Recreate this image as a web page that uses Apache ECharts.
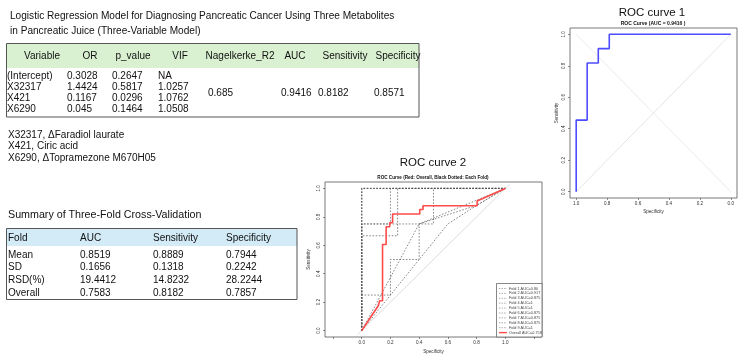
<!DOCTYPE html>
<html>
<head>
<meta charset="utf-8">
<script src="https://cdn.jsdelivr.net/npm/echarts@6/dist/echarts.min.js"></script>
<style>
html,body{margin:0;padding:0;background:#fff}
#main{width:744px;height:361px}
</style>
</head>
<body>
<div id="main"></div>
<script>
//表1 逻辑回归模型
var modelTitle = ['Logistic Regression Model for Diagnosing Pancreatic Cancer Using Three Metabolites',
	'in Pancreatic Juice (Three-Variable Model)'];
var modelHeader = ['Variable','OR','p_value','VIF','Nagelkerke_R2','AUC','Sensitivity','Specificity'];
var variables = ['(Intercept)','X32317','X421','X6290'];
var orVals = ['0.3028','1.4424','0.1167','0.045'];
var pVals = ['0.2647','0.5817','0.0296','0.1464'];
var vifVals = ['NA','1.0257','1.0762','1.0508'];
var modelStats = ['0.685','0.9416','0.8182','0.8571'];//R2, AUC, Sens, Spec
var notes = ['X32317, \u0394Faradiol laurate','X421, Ciric acid','X6290, \u0394Topramezone M670H05'];

//表2 交叉验证
var cvTitle = 'Summary of Three-Fold Cross-Validation';
var cvHeader = ['Fold','AUC','Sensitivity','Specificity'];
var cvRows = ['Mean','SD','RSD(%)','Overall'];
var cvAuc = ['0.8519','0.1656','19.4412','0.7583'];
var cvSens = ['0.8889','0.1318','14.8232','0.8182'];
var cvSpec = ['0.7944','0.2242','28.2244','0.7857'];

//ROC 1
var tickVals = [0, 0.2, 0.4, 0.6, 0.8, 1.0];
var tickVals2 = [-0.2, 0, 0.2, 0.4, 0.6, 0.8, 1.0, 1.2];
var roc1Spec = [1, 1, 0.929, 0.929, 0.857, 0.857, 0.786, 0.786, 0];
var roc1Sens = [0, 0.455, 0.455, 0.818, 0.818, 0.909, 0.909, 1, 1];

//ROC 2
var overallX = [0, 0.115, 0.125, 0.125, 0.145, 0.145, 0.17, 0.17, 0.195, 0.195, 0.215, 0.215, 0.404, 0.404, 0.427, 0.427, 0.804, 0.804, 1];
var overallY = [0, 0.175, 0.175, 0.21, 0.21, 0.605, 0.605, 0.73, 0.73, 0.758, 0.758, 0.82, 0.82, 0.852, 0.852, 0.878, 0.878, 0.911, 1];
var foldNames = ['Fold 1 AUC=0.80','Fold 2 AUC=0.917','Fold 3 AUC=0.875','Fold 4 AUC=1','Fold 5 AUC=1',
	'Fold 6 AUC=0.875','Fold 7 AUC=0.875','Fold 8 AUC=0.875','Fold 9 AUC=1'];
var overallName = 'Overall AUC=0.758';
var foldX = [
	[0, 0, 0.2, 0.2, 0.4, 0.4, 1],
	[0, 0, 0.25, 0.25, 1],
	[0, 0, 0.5, 0.5, 1],
	[0, 0, 1],
	[0, 0, 1],
	[0, 0.4, 0.8, 1],
	[0, 0, 0.2, 0.2, 1],
	[0, 0.6, 0.8, 1],
	[0, 0, 1]
];
var foldY = [
	[0, 0.25, 0.25, 0.5, 0.5, 0.75, 1],
	[0, 0.667, 0.667, 1, 1],
	[0, 0.75, 0.75, 1, 1],
	[0, 1, 1],
	[0, 1, 1],
	[0, 0.75, 0.88, 1],
	[0, 0.75, 0.75, 1, 1],
	[0, 0.75, 0.88, 1],
	[0, 1, 1]
];

function zip(xs, ys){
	return xs.map(function(x, i){ return [x, ys[i]]; });
}

var FONT = '"Liberation Sans", Arial, sans-serif';
function txt(s, x, y, size, align, bold, color){
	return {type:'text', x:x, y:y, z:10,
		style:{text:s, font:(bold ? 'bold ' : '') + size + 'px ' + FONT, fill:color || '#111',
			textAlign:align || 'left', textVerticalAlign:'middle'}};
}

var g = [];
//表1
g.push(txt(modelTitle[0], 10, 16, 10.1));
g.push(txt(modelTitle[1], 10, 31, 10.1));
g.push({type:'rect', z:5, shape:{x:7, y:44, width:412, height:24}, style:{fill:'#d9f1d1'}});
g.push({type:'rect', z:6, shape:{x:6.5, y:43.5, width:412.5, height:73.5}, style:{fill:null, stroke:'#555', lineWidth:1}});
var hx = [42, 90, 133, 180, 240, 295, 345, 398];
modelHeader.forEach(function(h, i){ g.push(txt(h, hx[i], 56, 10, 'center')); });
var rowY = [76.5, 87.5, 98.5, 109.5];
var colX = [7, 67, 112, 158];
variables.forEach(function(v, i){
	g.push(txt(v, colX[0], rowY[i], 10));
	g.push(txt(orVals[i], colX[1], rowY[i], 10));
	g.push(txt(pVals[i], colX[2], rowY[i], 10));
	g.push(txt(vifVals[i], colX[3], rowY[i], 10));
});
var statX = [208, 281, 318, 374];
modelStats.forEach(function(s, i){ g.push(txt(s, statX[i], 93, 10)); });
notes.forEach(function(n, i){ g.push(txt(n, 8, 135 + i * 11.7, 10)); });

//表2
g.push(txt(cvTitle, 8, 215, 10.7));
g.push({type:'rect', z:5, shape:{x:7, y:229, width:290, height:17}, style:{fill:'#d2ebf7'}});
g.push({type:'rect', z:6, shape:{x:6.5, y:228.5, width:290.5, height:71}, style:{fill:null, stroke:'#555', lineWidth:1}});
var cx = [8, 80, 153, 226];
cvHeader.forEach(function(h, i){ g.push(txt(h, cx[i], 238, 10)); });
cvRows.forEach(function(r, i){
	var y = 255 + i * 12.6;
	g.push(txt(r, cx[0], y, 10));
	g.push(txt(cvAuc[i], cx[1], y, 10));
	g.push(txt(cvSens[i], cx[2], y, 10));
	g.push(txt(cvSpec[i], cx[3], y, 10));
});

//ROC 标题
g.push(txt('ROC curve 1', 652, 13, 11.5, 'center'));
g.push(txt('ROC curve 2', 433, 163, 11.5, 'center'));
g.push(txt('ROC Curve (AUC = 0.9416 )', 653, 24, 5, 'center', true));
g.push(txt('ROC Curve (Red: Overall, Black Dotted: Each Fold)', 433, 178, 4.6, 'center', true));

//ROC 2 图例（右下角）
g.push({type:'rect', z:20, shape:{x:496.5, y:283.5, width:45.5, height:53.5},
	style:{fill:'#fff', stroke:'#555', lineWidth:0.7}});
foldNames.concat([overallName]).forEach(function(n, i){
	var y = 288.5 + i * 4.9;
	var isOverall = i === foldNames.length;
	g.push({type:'line', z:21, shape:{x1:499, y1:y, x2:507, y2:y},
		style:{stroke:isOverall ? '#ff4a4a' : '#666', lineWidth:isOverall ? 1.4 : 0.6,
			lineDash:isOverall ? null : [1.3, 1.3]}});
	g.push(Object.assign(txt(n, 509, y, 3.8, 'left', false, '#444'), {z:22}));
});

var tinyLabel = {fontSize:4.6, color:'#333', fontFamily:FONT};
function fmt(v){ return v.toFixed(1); }
function axisCommon(extra){
	var a = {
		type:'value',
		axisLine:{show:false, onZero:false},
		splitLine:{show:false},
		nameLocation:'middle',
		nameTextStyle:{fontSize:4.6, color:'#333', fontFamily:FONT}
	};
	return Object.assign(a, extra);
}
function ticks(vals){
	return {show:true, length:2, customValues:vals, lineStyle:{color:'#444', width:0.6}};
}
function labels(vals, rot, margin){
	return Object.assign({customValues:vals, rotate:rot, margin:margin, formatter:fmt}, tinyLabel);
}

var series = [
	{type:'line', xAxisIndex:0, yAxisIndex:0, data:[[1, 0], [0, 1]], symbol:'none', silent:true,
		lineStyle:{color:'#d9d9d9', width:0.7}},
	{type:'line', xAxisIndex:0, yAxisIndex:0, data:[[1, 1], [0, 0]], symbol:'none', silent:true,
		lineStyle:{color:'#e2e2e2', width:0.7}},
	{type:'line', xAxisIndex:0, yAxisIndex:0, data:zip(roc1Spec, roc1Sens), symbol:'none', silent:true,
		lineStyle:{color:'#4d4dff', width:1.6}},
	{type:'line', xAxisIndex:1, yAxisIndex:1, data:[[-0.03, -0.03], [1.03, 1.03]], symbol:'none', silent:true,
		lineStyle:{color:'#cfcfcf', width:0.7}}
];
foldNames.forEach(function(n, i){
	series.push({type:'line', name:n, xAxisIndex:1, yAxisIndex:1, data:zip(foldX[i], foldY[i]),
		symbol:'none', silent:true, color:'#555', lineStyle:{color:'#555', width:0.7, type:[1.6, 1.6]}});
});
series.push({type:'line', name:overallName, xAxisIndex:1, yAxisIndex:1, data:zip(overallX, overallY),
	symbol:'none', silent:true, z:3, color:'#ff4a4a', lineStyle:{color:'#ff4a4a', width:1.6}});

var myChart = echarts.init(document.getElementById('main'), null, {renderer:'canvas'});
var option = {
	animation:false,
	backgroundColor:'#fff',
	grid:[
		{left:570, top:28, width:167, height:170, show:true, borderColor:'#555', borderWidth:0.8, backgroundColor:'transparent'},
		{left:325, top:182, width:217, height:155, show:true, borderColor:'#555', borderWidth:0.8, backgroundColor:'transparent'}
	],
	xAxis:[
		axisCommon({gridIndex:0, min:-0.04, max:1.04, inverse:true, name:'Specificity', nameGap:11,
			axisTick:ticks(tickVals), axisLabel:labels(tickVals, 0, 3)}),
		axisCommon({gridIndex:1, min:-0.256, max:1.256, name:'Specificity', nameGap:12,
			axisTick:ticks(tickVals2), axisLabel:labels(tickVals, 0, 3)})
	],
	yAxis:[
		axisCommon({gridIndex:0, min:-0.04, max:1.04, name:'Sensitivity', nameGap:11,
			axisTick:ticks(tickVals), axisLabel:labels(tickVals, 90, 4)}),
		axisCommon({gridIndex:1, min:-0.045, max:1.045, name:'Sensitivity', nameGap:14,
			axisTick:ticks(tickVals), axisLabel:labels(tickVals, 90, 4)})
	],
	graphic:g,
	series:series
};
myChart.setOption(option);
</script>
</body>
</html>
